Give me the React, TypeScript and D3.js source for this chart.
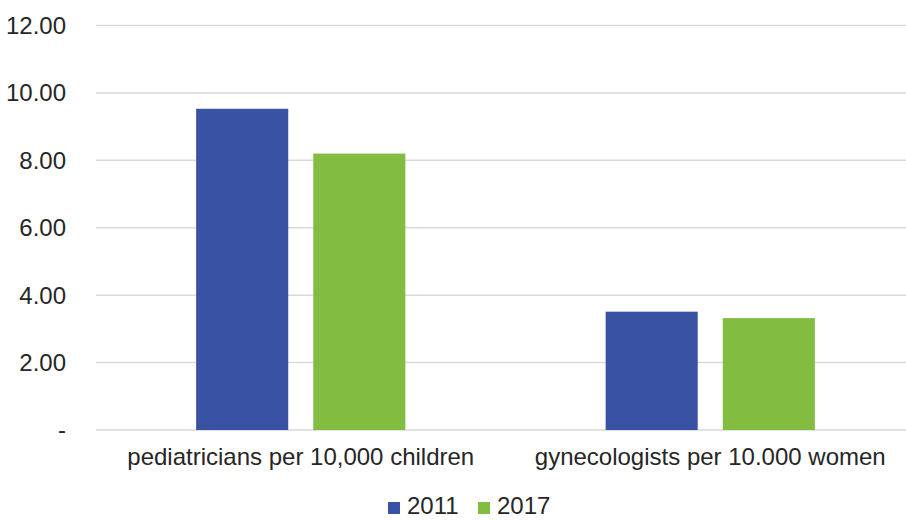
import React from "react";
import * as d3 from "d3";

const categories = ["pediatricians per 10,000 children", "gynecologists per 10.000 women"];
const seriesNames = ["2011", "2017"];
const values2011 = [9.53, 3.51];
const values2017 = [8.2, 3.32];
const yTicks = [0, 2, 4, 6, 8, 10, 12];
const colors = ["#3A52A3", "#82BC41"];

const W = 906;
const H = 520;

export default function App() {
  const series = [values2011, values2017];
  const x = d3.scaleBand<string>().domain(categories).range([96, 915]).paddingInner(0).paddingOuter(0);
  const inner = d3.scaleBand<string>().domain(seriesNames).range([0, x.bandwidth()]).paddingInner(0.2137).paddingOuter(0.855);
  const y = d3.scaleLinear().domain([0, 12]).range([430, 25.5]);
  const font = "'Liberation Sans', Arial, sans-serif";
  const fmt = (v: number) => (v === 0 ? "-" : d3.format(".2f")(v));
  return (
    <svg width={W} height={H} style={{ position: "absolute", left: 0, top: 0 }} fontFamily={font}>
      <rect width={W} height={H} fill="#fff" />
      {yTicks.map((t) => (
        <g key={t}>
          <line x1={96} x2={W} y1={y(t)} y2={y(t)} stroke="#d9d9d9" strokeWidth={1.5} />
          <text x={66} y={y(t)} dy="0.35em" textAnchor="end" fontSize={24} fill="#262626">
            {fmt(t)}
          </text>
        </g>
      ))}
      {categories.map((c, i) => (
        <g key={c} transform={`translate(${x(c)},0)`}>
          {series.map((s, j) => (
            <rect
              key={j}
              x={inner(seriesNames[j])}
              y={y(s[i])}
              width={inner.bandwidth()}
              height={y(0) - y(s[i])}
              fill={colors[j]}
            />
          ))}
          <text x={x.bandwidth() / 2} y={465} textAnchor="middle" fontSize={24} fill="#262626">
            {c}
          </text>
        </g>
      ))}
      {seriesNames.map((n, j) => {
        const lx = [388, 478][j];
        return (
          <g key={n}>
            <rect x={lx} y={502} width={12} height={12} fill={colors[j]} />
            <text x={lx + 19} y={514} fontSize={24} fill="#262626">
              {n}
            </text>
          </g>
        );
      })}
    </svg>
  );
}
